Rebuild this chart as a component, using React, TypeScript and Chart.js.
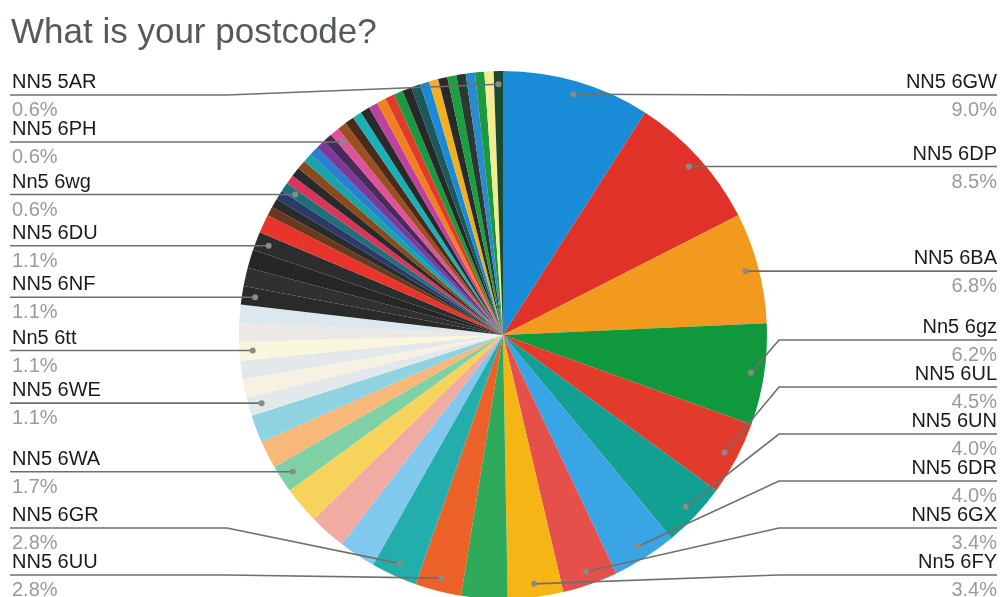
import React, { useEffect, useRef } from "react";
import { Chart, registerables } from "chart.js";

Chart.register(...registerables);

const chartTitle = "What is your postcode?";

// Postcodes (only the ones labelled in the reference are named)
const categories: string[] = [
  "NN5 6GW", "NN5 6DP", "NN5 6BA", "Nn5 6gz", "NN5 6UL", "NN5 6UN", "NN5 6DR", "NN5 6GX", "Nn5 6FY",
  "", "NN5 6UU", "NN5 6GR", "", "", "", "NN5 6WA", "", "",
  "NN5 6WE", "", "", "Nn5 6tt", "", "",
  "NN5 6NF", "", "", "NN5 6DU", "",
  // 16 single responses
  "", "", "", "Nn5 6wg", "", "", "", "", "", "", "", "NN5 6PH", "", "", "", "",
  // 15 single responses
  "", "", "", "", "", "", "", "", "", "", "", "", "", "", "NN5 5AR",
];

// Number of responses per postcode (177 responses in total)
const responses: number[] = [
  16, 15, 12, 11, 8, 7, 7, 6, 6,
  5, 5, 5, 4, 4, 4, 3, 3, 3,
  2, 2, 2, 2, 2, 2,
  2, 2, 2, 2, 2,
  // 16 single responses
  1, 1, 1, 1, 1, 1, 1, 1, 1, 1, 1, 1, 1, 1, 1, 1,
  // 15 single responses
  1, 1, 1, 1, 1, 1, 1, 1, 1, 1, 1, 1, 1, 1, 1,
];

const sliceColors: string[] = [
  "#1a8bd6", "#e1322a", "#f29a1e", "#10993c", "#e23a2b", "#11a092", "#3aa5e4", "#e5504b", "#f5b615",
  "#2eaa5a", "#eb6128", "#24aeab", "#80c8ee", "#f0aba2", "#f7d35c", "#80d0a6", "#f7b87a", "#90d3e0",
  "#e2e8ec", "#f6f1e3", "#e5e8ea", "#faf6de", "#ebe8e6", "#dce8ee",
  "#2a2a2a", "#303030", "#262626", "#2c2e2d", "#e8342a",
  "#6b3a1e", "#2b2b2b", "#2c3a6b", "#1e6f78", "#d9345a", "#2a2a2a", "#8a4a1c", "#1aa3a8",
  "#2a7fd0", "#7a3a9a", "#4a2a5a", "#e0529a", "#9a5020", "#4a2a18", "#1ab0b8", "#2a2a2a",
  "#c040a0", "#f08020", "#e03a2a", "#1a9a40", "#282828", "#1a5a5a", "#1a8ad8", "#f0b020",
  "#2a2a2a", "#1aa040", "#2a3a30", "#2a8ad0", "#1a9a3a", "#f4ec90", "#1a4a30",
];

const labelPlugin = {
  id: "formsLabels",
  afterDraw(chart: any) {
    const ctx = chart.ctx as CanvasRenderingContext2D;
    const meta = chart.getDatasetMeta(0);
    const data: number[] = chart.data.datasets[0].data;
    const names: string[] = chart.data.labels;
    const total = data.reduce((a, b) => a + b, 0);

    ctx.save();
    ctx.fillStyle = "#535a58";
    ctx.font = '35px "Liberation Sans", Arial, sans-serif';
    ctx.textAlign = "left";
    ctx.textBaseline = "alphabetic";
    ctx.fillText(chartTitle, 11, 43);

    type Item = { i: number; dx: number; dy: number; ly: number };
    const left: Item[] = [];
    const right: Item[] = [];
    let cx = 0, r = 0;
    meta.data.forEach((arc: any, i: number) => {
      const p = arc.getProps(["x", "y", "startAngle", "endAngle", "outerRadius"], true);
      cx = p.x; r = p.outerRadius;
      if (!names[i]) return;
      const mid = (p.startAngle + p.endAngle) / 2;
      const dx = p.x + Math.cos(mid) * p.outerRadius * 0.95;
      const dy = p.y + Math.sin(mid) * p.outerRadius * 0.95;
      const item = { i, dx, dy, ly: dy };
      if (Math.cos(mid) >= 0) right.push(item); else left.push(item);
    });

    const minY = 95, maxY = 575, gap = 47;
    const resolve = (items: Item[]) => {
      items.sort((a, b) => a.dy - b.dy);
      items.forEach((it, k) => {
        it.ly = Math.max(it.dy, minY);
        if (k > 0) it.ly = Math.max(it.ly, items[k - 1].ly + gap);
      });
      for (let k = items.length - 1; k >= 0; k--) {
        if (k === items.length - 1) items[k].ly = Math.min(items[k].ly, maxY);
        else items[k].ly = Math.min(items[k].ly, items[k + 1].ly - gap);
      }
    };
    resolve(left);
    resolve(right);

    const draw = (items: Item[], isRight: boolean) => {
      const elbow = isRight ? cx + r + 12 : cx - r - 12;
      const edge = isRight ? 997 : 10;
      items.forEach((it) => {
        ctx.strokeStyle = "#6f6f6f";
        ctx.lineWidth = 1.6;
        ctx.beginPath();
        ctx.moveTo(edge, it.ly);
        ctx.lineTo(elbow, it.ly);
        ctx.lineTo(it.dx, it.dy);
        ctx.stroke();
        ctx.fillStyle = "#8a8a8a";
        ctx.beginPath();
        ctx.arc(it.dx, it.dy, 3, 0, Math.PI * 2);
        ctx.fill();

        ctx.textAlign = isRight ? "right" : "left";
        const tx = isRight ? 997 : 12;
        ctx.font = '20px "Liberation Sans", Arial, sans-serif';
        ctx.fillStyle = "#1a1a1a";
        ctx.fillText(names[it.i], tx, it.ly - 7);
        ctx.fillStyle = "#9a9a9a";
        ctx.fillText(((data[it.i] / total) * 100).toFixed(1) + "%", tx, it.ly + 21);
      });
    };
    draw(left, false);
    draw(right, true);
    ctx.restore();
  },
};

export default function App() {
  const canvasRef = useRef<HTMLCanvasElement | null>(null);

  useEffect(() => {
    document.body.style.margin = "0";
    const canvas = canvasRef.current;
    if (!canvas) return;
    const chart = new Chart(canvas, {
      type: "pie",
      data: {
        labels: categories,
        datasets: [
          {
            data: responses,
            backgroundColor: sliceColors,
            borderWidth: 0,
          },
        ],
      },
      options: {
        responsive: false,
        animation: false,
        devicePixelRatio: 1,
        layout: { padding: { left: 239, right: 234, top: 71, bottom: 21 } },
        plugins: {
          legend: { display: false },
          tooltip: { enabled: false },
          title: { display: false },
        },
      },
      plugins: [
        {
          id: "whiteBg",
          beforeDraw(c: any) {
            const g = c.ctx;
            g.save();
            g.fillStyle = "#ffffff";
            g.fillRect(0, 0, c.width, c.height);
            g.restore();
          },
        },
        labelPlugin,
      ],
    });
    return () => chart.destroy();
  }, []);

  return (
    <div style={{ position: "absolute", left: 0, top: 0, width: 1001, height: 597, overflow: "hidden", background: "#fff" }}>
      <canvas ref={canvasRef} width={1001} height={620} style={{ display: "block" }} />
    </div>
  );
}
